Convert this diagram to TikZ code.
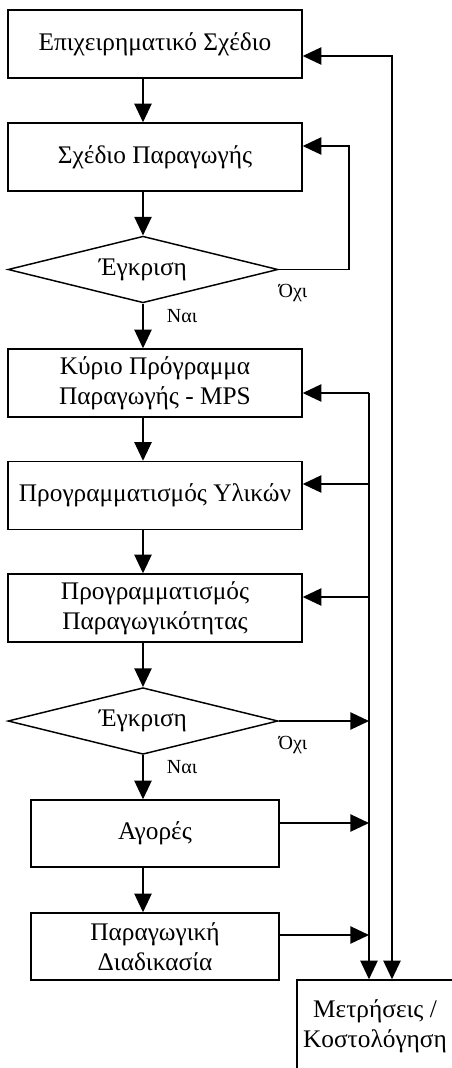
\documentclass[tikz,border=0pt]{standalone}
\usepackage{fontspec}
\setmainfont{Liberation Serif}
\usetikzlibrary{arrows.meta,shapes.geometric}

\begin{document}
\begin{tikzpicture}[x=0.75pt,y=-0.75pt,
  line width=1.1pt,
  box/.style={draw,line width=1.1pt,minimum width=220.5pt,minimum height=51pt,
    inner sep=0pt,align=center,font=\fontsize{19}{22.5}\selectfont},
  smallbox/.style={box,minimum width=186pt,minimum height=50.25pt},
  decision/.style={draw,diamond,aspect=4,line width=1.1pt,minimum width=202.5pt,minimum height=50pt,
    inner sep=0pt,font=\fontsize{19}{22.5}\selectfont},
  tag/.style={font=\fontsize{15}{18}\selectfont,inner sep=0pt},
  txt/.style={align=center,inner sep=0pt,font=\fontsize{19}{22.5}\selectfont},
  arr/.style={-{Triangle[length=14pt,width=13pt]}},
  both/.style={{Triangle[length=14pt,width=13pt]}-{Triangle[length=14pt,width=13pt]}}
]
\useasboundingbox (0,0) rectangle (452,1068);
\clip (0,0) rectangle (452,1068);

% main column
\node[box] (b1) at (155,44) {Επιχειρηματικό Σχέδιο};
\node[box] (b2) at (155,157) {Σχέδιο Παραγωγής};
\node[decision] (d1) at (143,269.5) {Έγκριση};
\node[box] (b3) at (155,383) {Κύριο Πρόγραμμα\\Παραγωγής - MPS};
\node[box] (b4) at (155,495.5) {Προγραμματισμός Υλικών};
\node[box] (b5) at (155,608) {Προγραμματισμός\\Παραγωγικότητας};
\node[decision] (d2) at (143,721) {Έγκριση};
\node[smallbox] (b6) at (155,833.5) {Αγορές};
\node[smallbox] (b7) at (155,946.5) {Παραγωγική\\Διαδικασία};

% measurement box, partly outside the frame
\node[draw,line width=1.1pt,minimum width=118.5pt,minimum height=90pt,inner sep=0pt] (b8) at (376,1040) {};
\node[txt] (b8t) at (375,1026) {Μετρήσεις /\\Κοστολόγηση};

% downward flow
\draw[arr] (d1.north |- b1.south) -- (d1.north |- b2.north);
\draw[arr] (d1.north |- b2.south) -- (d1.north);
\draw[arr] (d1.south) -- (d1.south |- b3.north);
\draw[arr] (d1.south |- b3.south) -- (d1.south |- b4.north);
\draw[arr] (d1.south |- b4.south) -- (d1.south |- b5.north);
\draw[arr] (d1.south |- b5.south) -- (d2.north);
\draw[arr] (d2.south) -- (d2.south |- b6.north);
\draw[arr] (d2.south |- b6.south) -- (d2.south |- b7.north);

% decision labels
\node[tag] (no1) at (293,293) {Όχι};
\node[tag] (yes1) at (182,316) {Ναι};
\node[tag] (no2) at (293,745) {Όχι};
\node[tag] (yes2) at (182,767) {Ναι};

% rejection loop back to the production plan
\coordinate (r1) at (349,146);
\draw[arr] (d1.east) -| (r1) -- (r1 -| b2.east);

% outer feedback line
\coordinate (c1) at (392,56);
\draw[both] (c1 -| b1.east) -- (c1) -- (c1 |- b8.north);

% inner feedback bus
\coordinate (c2) at (369,393);
\draw[arr] (c2) -- (c2 |- b8.north);
\draw[arr] (c2) -- (c2 -| b3.east);
\coordinate (c3) at (369,484);
\draw[arr] (c3) -- (c3 -| b4.east);
\coordinate (c4) at (369,597);
\draw[arr] (c4) -- (c4 -| b5.east);
\draw[arr] (d2.east) -- (d2.east -| c2);
\coordinate (c5) at (369,823);
\draw[arr] (c5 -| b6.east) -- (c5);
\coordinate (c6) at (369,935);
\draw[arr] (c6 -| b7.east) -- (c6);
\end{tikzpicture}
\end{document}
